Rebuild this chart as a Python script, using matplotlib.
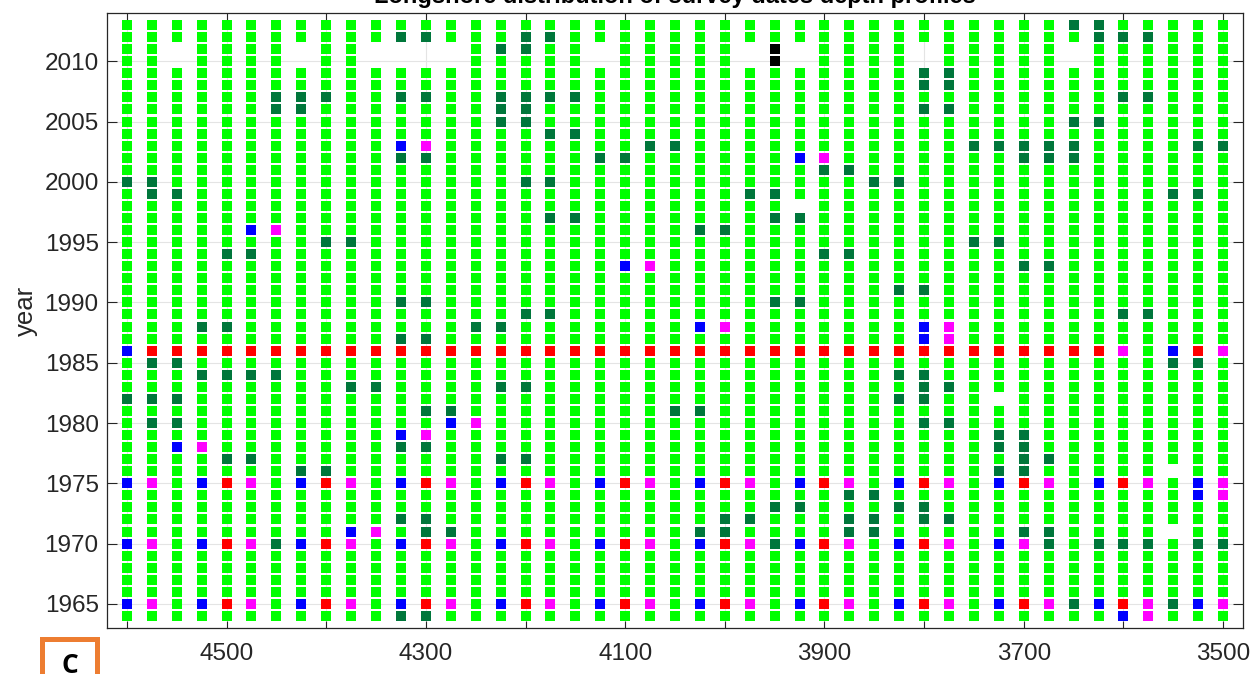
import matplotlib
matplotlib.use("Agg")
import matplotlib.pyplot as plt
from matplotlib.patches import Rectangle

plt.rcParams['font.family'] = ['Liberation Sans', 'DejaVu Sans']

# profile positions (columns, left to right on the plot)
positions = [4600, 4575, 4550, 4525, 4500, 4475, 4450, 4425, 4400, 4375,
             4350, 4325, 4300, 4275, 4250, 4225, 4200, 4175, 4150, 4125,
             4100, 4075, 4050, 4025, 4000, 3975, 3950, 3925, 3900, 3875,
             3850, 3825, 3800, 3775, 3750, 3725, 3700, 3675, 3650, 3625,
             3600, 3575, 3550, 3525, 3500]

years = [2013, 2012, 2011, 2010, 2009, 2008, 2007, 2006, 2005, 2004,
         2003, 2002, 2001, 2000, 1999, 1998, 1997, 1996, 1995, 1994,
         1993, 1992, 1991, 1990, 1989, 1988, 1987, 1986, 1985, 1984,
         1983, 1982, 1981, 1980, 1979, 1978, 1977, 1976, 1975, 1974,
         1973, 1972, 1971, 1970, 1969, 1968, 1967, 1966, 1965, 1964]

# one string per year, one char per profile
# g=green, d=dark green, b=blue, m=magenta, r=red, k=black, .=no survey
survey_rows = [
    "ggggg ggggg ggggg ggggg ggggg ggggg ggggg gggdd ggggg",  # 2013
    "ggggg ggggg gddgg gddgg ggggg ggggg ggggg ggggd ddggg",  # 2012
    "gg.gg gg.gg ....g ddgg. ggggg .k.gg gg.gg ggg.g ggggg",  # 2011
    "gg.gg gg.gg ....g gggg. ggggg .k.gg gg.gg ggg.g ggggg",  # 2010
    "ggggg ggggg ggggg ggggg ggggg ggggg ggddg ggggg ggggg",  # 2009
    "ggggg ggggg ggggg ggggg ggggg ggggg ggddg ggggg ggggg",  # 2008
    "ggggg gdddg gddgg ddddg ggggg ggggg ggggg ggggg ddggg",  # 2007
    "ggggg gddgg ggggg ddggg ggggg ggggg ggddg ggggg ggggg",  # 2006
    "ggggg ggggg ggggg ddggg ggggg ggggg ggggg gggdd ggggg",  # 2005
    "ggggg ggggg ggggg ggddg ggggg ggggg ggggg ggggg ggggg",  # 2004
    "ggggg ggggg gbmgg ggggg gddgg ggggg ggggd ddddg gggdd",  # 2003
    "ggggg ggggg gddgg ggggd dgggg ggbmg ggggg gdddg ggggg",  # 2002
    "ggggg ggggg ggggg ggggg ggggg gggdd ggggg ggggg ggggg",  # 2001
    "ddggg ggggg ggggg gddgg ggggg ggggg ddggg ggggg ggggg",  # 2000
    "gddgg ggggg ggggg ggggg ggggg ddggg ggggg ggggg ggddg",  # 1999
    "ggggg ggggg ggggg ggggg ggggg gg.gg ggggg ggggg ggggg",  # 1998
    "ggggg ggggg ggggg ggddg ggggg gddgg ggggg ggggg ggggg",  # 1997
    "ggggg bmggg ggggg ggggg gggdd ggggg ggggg ggggg ggggg",  # 1996
    "ggggg gggdd ggggg ggggg ggggg ggggg ggggd dgggg ggggg",  # 1995
    "ggggd dgggg ggggg ggggg ggggg gggdd ggggg ggggg ggggg",  # 1994
    "ggggg ggggg ggggg ggggg bmggg ggggg ggggg gddgg ggggg",  # 1993
    "ggggg ggggg ggggg ggggg ggggg ggggg ggggg ggggg ggggg",  # 1992
    "ggggg ggggg ggggg ggggg ggggg ggggg gddgg ggggg ggggg",  # 1991
    "ggggg ggggg gddgg ggggg ggggg gddgg ggggg ggggg ggggg",  # 1990
    "ggggg ggggg ggggg gddgg ggggg ggggg ggggg ggggg ddggg",  # 1989
    "gggdd ggggg ggggd dgggg gggbm ggggg ggbmg ggggg ggggg",  # 1988
    "ggggg ggggg gddgg ggggg ggggg ggggg ggbmg ggggg ggggg",  # 1987
    "brrrr rrrrr rrrrr rrrrr rrrrr rrrrr rrrrr rrrrr mgbrm",  # 1986
    "gddgg ggggg ggggg ggggg ggggg ggggg ggggg ggggg ggddg",  # 1985
    "gggdd ddggg ggggg ggggg ggggg ggggg gddgg ggggg ggggg",  # 1984
    "ggggg ggggd dgggg ddggg ggggg ggggg ggddg ggggg ggggg",  # 1983
    "dddgg ggggg ggggg ggggg ggggg ggggg gddgg .gggg ggggg",  # 1982
    "ggggg ggggg ggddg ggggg ggddg ggggg ggggg ggggg ggggg",  # 1981
    "gddgg ggggg gggbm ggggg ggggg ggggg ggddg ggggg ggggg",  # 1980
    "ggggg ggggg gbmgg ggggg ggggg ggggg ggggg ddggg ggggg",  # 1979
    "ggbmg ggggg gddgg ggggg ggggg ggggg ggggg ddggg ggggg",  # 1978
    "ggggd dgggg ggggg ddggg ggggg ggggg ggggg gddgg ggggg",  # 1977
    "ggggg ggddg ggggg ggggg ggggg ggggg ggggg ddggg gg.gg",  # 1976
    "bmgbr mgbrm gbrmg brmgb rmgbr mgbrm gbrmg brmgb rmgbm",  # 1975
    "ggggg ggggg ggggg ggggg ggggg ggggd dgggg ggggg gggbm",  # 1974
    "ggggg ggggg ggggg ggggg ggggg gddgg gddgg ggggg ggggg",  # 1973
    "ggggg ggggg gddgg ggggg ggggd dgggd dgddg ggggg ggggg",  # 1972
    "ggggg ggggb mgddg ggggg gggdd ggggd dgggg gddgg gg.gg",  # 1971
    "bmgbr mdbrm gbrmg brmgb rmgbr mdbrm gbrmg bmdgd ddgdd",  # 1970
    "ggggg ggggg ggggg ggggg ggggg ggggg ggggg ggggg ggggg",  # 1969
    "ggggg ggggg ggggg ggggg ggggg ggggg ggggg ggggg ggggg",  # 1968
    "ggggg ggggg ggggg ggggg ggggg ggggg ggggg ggggg ggggg",  # 1967
    "ggggg ggggg ggggg ggggg ggggg ggggg ggggg ggggg ggggg",  # 1966
    "bmgbr mgbrm gbrmg brmgb rmgbr mgbrm gbrmg brmdb rmdbm",  # 1965
    "ggggg ggggg gddgg ggggg ggggg ggggg ggggg ggggg bmggg",  # 1964
]

code_colors = {
    'g': '#00ff00',
    'd': '#00773b',
    'b': '#0000ff',
    'm': '#ff00ff',
    'r': '#ff0000',
    'k': '#000000',
}

x_ticks = [4600, 4500, 4400, 4300, 4200, 4100, 4000, 3900, 3800, 3700, 3600, 3500]
x_ticklabels = ['', '4500', '', '4300', '', '4100', '', '3900', '', '3700', '', '3500']
y_ticks = [1965, 1970, 1975, 1980, 1985, 1990, 1995, 2000, 2005, 2010]

W, H = 1256, 674
fig = plt.figure(figsize=(W / 100, H / 100), dpi=100)
ax = fig.add_axes([107 / W, 1 - 628 / H, (1243 - 107) / W, (628 - 13) / H])

for code, color in code_colors.items():
    xs, ys = [], []
    for yr, row in zip(years, survey_rows):
        row = row.replace(' ', '')
        for x, c in zip(positions, row):
            if c == code:
                xs.append(x)
                ys.append(yr)
    ax.plot(xs, ys, 's', ls='none', color=color, ms=6.6, mew=0, zorder=3)

ax.set_xlim(4620, 3480)
ax.set_ylim(1963, 2014)
ax.set_xticks(x_ticks)
ax.set_xticklabels(x_ticklabels)
ax.set_yticks(y_ticks)

ax.grid(True, color='#e4e4e4', lw=0.8, zorder=0)
ax.set_axisbelow(True)
for s in ax.spines.values():
    s.set_color('#262626')
    s.set_linewidth(0.9)

ax.tick_params(axis='x', direction='in', length=5, width=0.8, colors='#262626',
               labelsize=17.5, pad=10.5, top=True)
ax.tick_params(axis='y', direction='in', length=7.5, width=0.8, colors='#262626',
               labelsize=17.5, pad=6, right=True)

ax.set_ylabel('year', fontsize=18.5, color='#262626')
ax.yaxis.set_label_coords(-0.061, 0.515)

fig.text(675 / W, 1 - 3 / H, 'Longshore distribution of survey dates depth profiles',
         ha='center', va='baseline', fontsize=17, fontweight='bold', color='black')

# panel label box, partly cut by the figure edge
fig.patches.append(Rectangle((42 / W, -0.05), 55 / W, (674 - 639) / H + 0.05,
                             transform=fig.transFigure, fill=True, facecolor='white',
                             edgecolor='#ed7d31', lw=3.6))
fig.text(70 / W, 1 - 652 / H, 'C', ha='center', va='top', fontsize=19,
         fontweight='bold', color='black', family='Open Sans')

fig.savefig('out.png', dpi=100)
